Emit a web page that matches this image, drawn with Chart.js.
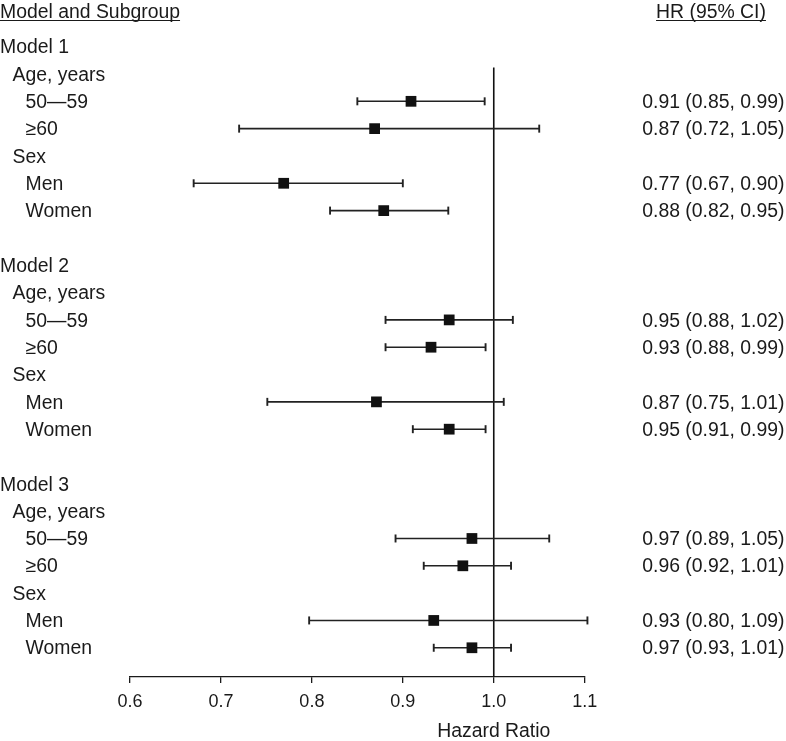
<!DOCTYPE html>
<html>
<head>
<meta charset="utf-8">
<script src="https://cdn.jsdelivr.net/npm/chart.js@4.4.1/dist/chart.umd.min.js"></script>
<style>
  html, body { margin: 0; padding: 0; background: #fff; }
  #wrap { position: relative; width: 786px; height: 741px; }
</style>
</head>
<body>
<div id="wrap"><canvas id="c"></canvas></div>
<script>
// ---- data ----
const rowLabels = [
  "Model 1", "Age, years", "50\u201459", "\u226560", "Sex", "Men", "Women", "",
  "Model 2", "Age, years", "50\u201459", "\u226560", "Sex", "Men", "Women", "",
  "Model 3", "Age, years", "50\u201459", "\u226560", "Sex", "Men", "Women"
];
const rowLevels = [0,1,2,2,1,2,2,-1, 0,1,2,2,1,2,2,-1, 0,1,2,2,1,2,2];
const hrEstimate = [0.909, 0.869, 0.769, 0.879, 0.951, 0.931, 0.871, 0.951, 0.976, 0.966, 0.934, 0.976];
const ciLower    = [0.85, 0.72, 0.67, 0.82, 0.881, 0.881, 0.751, 0.911, 0.892, 0.923, 0.797, 0.934];
const ciUpper    = [0.99, 1.05, 0.90, 0.95, 1.021, 0.991, 1.011, 0.991, 1.061, 1.019, 1.103, 1.019];
const hrText = [
  "0.91 (0.85, 0.99)", "0.87 (0.72, 1.05)", "0.77 (0.67, 0.90)", "0.88 (0.82, 0.95)",
  "0.95 (0.88, 1.02)", "0.93 (0.88, 0.99)", "0.87 (0.75, 1.01)", "0.95 (0.91, 0.99)",
  "0.97 (0.89, 1.05)", "0.96 (0.92, 1.01)", "0.93 (0.80, 1.09)", "0.97 (0.93, 1.01)"
];
const xTicks = [0.6, 0.7, 0.8, 0.9, 1.0, 1.1];
const referenceValue = 1.0;
const headerLeft = "Model and Subgroup";
const headerRight = "HR (95% CI)";
const xTitle = "Hazard Ratio";

// ---- derived ----
const subgroupRows = rowLabels.map((l, i) => i).filter(i => rowLevels[i] === 2);
const yMax = 23.07, yMin = -1.43, refTop = 0.76;
const FONT = "'Liberation Sans', Arial, sans-serif";
const INK = "#1a1a1a";

const datasets = [];
datasets.push({
  label: "HR",
  data: subgroupRows.map((r, k) => ({ x: hrEstimate[k], y: r })),
  showLine: false,
  pointStyle: "rect",
  pointRadius: 7.6,
  pointHoverRadius: 7.6,
  pointBackgroundColor: "#111",
  pointBorderWidth: 0,
  clip: false
});
subgroupRows.forEach((r, k) => {
  datasets.push({
    label: "CI " + k,
    data: [{ x: ciLower[k], y: r }, { x: ciUpper[k], y: r }],
    showLine: true,
    borderColor: "#222",
    borderWidth: 1.6,
    pointStyle: "line",
    pointRotation: 90,
    pointRadius: 4,
    pointHoverRadius: 4,
    pointBorderColor: "#222",
    pointBorderWidth: 1.9,
    clip: false
  });
});
datasets.push({
  label: "ref",
  data: [{ x: referenceValue, y: refTop }, { x: referenceValue, y: yMax }],
  showLine: true,
  borderColor: "#111",
  borderWidth: 1.6,
  pointRadius: 0,
  clip: false
});

const textPlugin = {
  id: "forestText",
  afterDraw(chart) {
    const ctx = chart.ctx;
    const ys = chart.scales.y, xs = chart.scales.x;
    ctx.save();
    ctx.fillStyle = INK;
    ctx.strokeStyle = INK;
    ctx.font = "19.4px " + FONT;
    ctx.textBaseline = "alphabetic";
    // headers
    ctx.textAlign = "left";
    ctx.fillText(headerLeft, 0, 17.5);
    let w = ctx.measureText(headerLeft).width;
    ctx.lineWidth = 1.2;
    ctx.beginPath(); ctx.moveTo(0, 20.5); ctx.lineTo(w, 20.5); ctx.stroke();
    ctx.textAlign = "center";
    const hx = 711;
    ctx.fillText(headerRight, hx, 17.5);
    w = ctx.measureText(headerRight).width;
    ctx.beginPath(); ctx.moveTo(hx - w / 2, 20.5); ctx.lineTo(hx + w / 2, 20.5); ctx.stroke();
    // row labels
    ctx.textAlign = "left";
    const indent = [0, 12.5, 25.5];
    rowLabels.forEach((lab, i) => {
      if (!lab) return;
      const y = ys.getPixelForValue(i) + 6.7;
      ctx.fillText(lab, indent[rowLevels[i]], y);
    });
    // HR text
    ctx.textAlign = "right";
    subgroupRows.forEach((r, k) => {
      ctx.fillText(hrText[k], 784.5, ys.getPixelForValue(r) + 6.7);
    });
    // x title
    ctx.textAlign = "center";
    ctx.fillText(xTitle, xs.getPixelForValue(referenceValue), 736.5);
    ctx.restore();
  }
};

new Chart(document.getElementById("c"), {
  type: "scatter",
  data: { datasets },
  options: {
    responsive: true,
    maintainAspectRatio: false,
    animation: false,
    events: [],
    layout: { padding: { left: 130, right: 201.3, top: 0, bottom: 0 } },
    plugins: { legend: { display: false }, tooltip: { enabled: false }, title: { display: false } },
    scales: {
      x: {
        type: "linear",
        position: "bottom",
        min: 0.6,
        max: 1.1,
        afterBuildTicks: s => { s.ticks = xTicks.map(v => ({ value: v })); },
        afterFit: s => { s.height = 64; },
        ticks: {
          callback: v => Number(v).toFixed(1),
          font: { size: 18, family: FONT },
          color: INK,
          padding: 8,
          maxRotation: 0,
          autoSkip: false
        },
        grid: { drawOnChartArea: false, drawTicks: true, tickLength: 6, color: INK, lineWidth: 1.3 },
        border: { display: true, color: INK, width: 1.3 }
      },
      y: {
        type: "linear",
        display: false,
        reverse: true,
        min: yMin,
        max: yMax
      }
    }
  },
  plugins: [textPlugin]
});
</script>
</body>
</html>
